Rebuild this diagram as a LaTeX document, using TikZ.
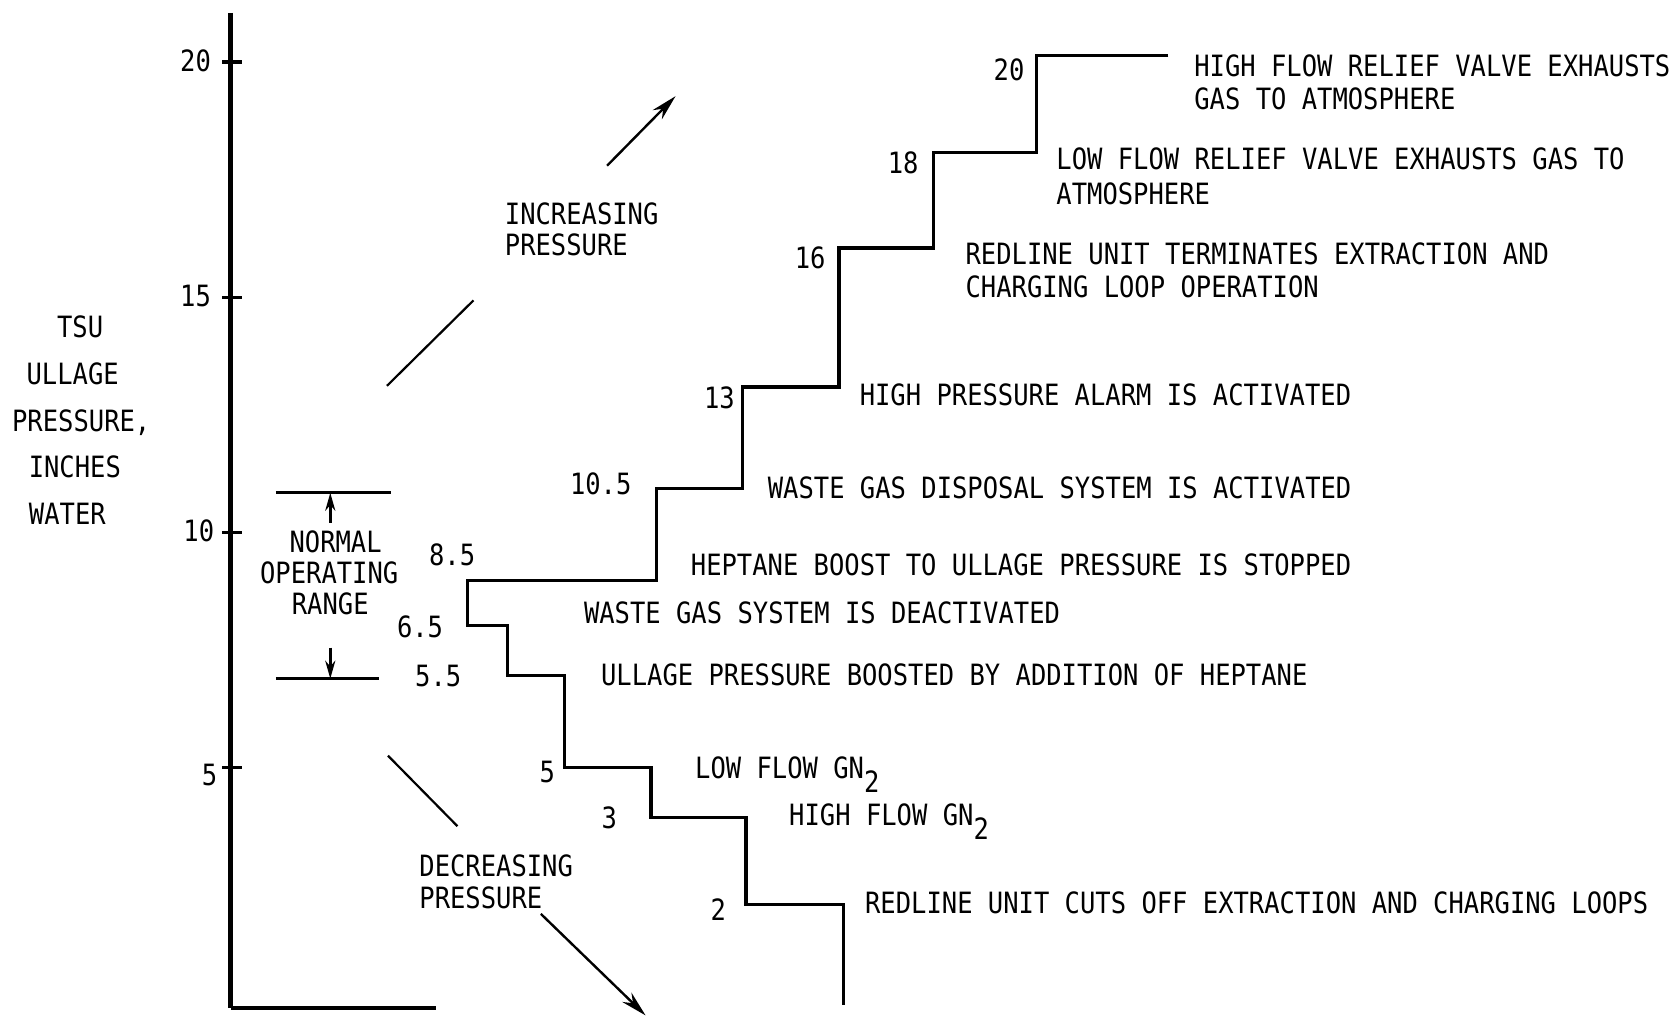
\documentclass[tikz,border=0pt]{standalone}
\usepackage{fontspec}
\newfontfamily\tw[FakeStretch=0.87]{DejaVu Sans Mono}
\usetikzlibrary{arrows.meta}
\begin{document}
\begin{tikzpicture}[x=0.5345pt,y=-0.5345pt,
  txt/.style={font=\tw\fontsize{14.66pt}{16pt}\selectfont, inner sep=0pt},
  lbl/.style={txt, anchor=base west},
  ctr/.style={txt, anchor=base},
  stair/.style={line width=1.6pt, line join=miter},
  axisline/.style={line width=2.4pt},
  thin/.style={line width=1.1pt},
  rng/.style={line width=1.3pt},
  arr/.style={line width=1.2pt, -{Stealth[length=13pt,width=6.5pt]}},
  sarr/.style={line width=1.6pt, -{Stealth[length=9pt,width=5pt]}}]
\useasboundingbox (0,0) rectangle (1568,952);

% axis
\coordinate (atop) at (216,12);
\coordinate (aorig) at (216,943);
\coordinate (aend) at (408,943);
\draw[axisline] (atop) -- (aorig);
\draw[line width=2pt] (aorig) -- (aend);
\foreach \yy in {58,278,498,718}{
  \draw[line width=1.6pt] (208,\yy) -- (226,\yy);
}
\node[ctr] (k20) at (183,67) {20};
\node[ctr] (k15) at (183,287) {15};
\node[ctr] (k10) at (186,507) {10};
\node[ctr] (k5)  at (196,735) {5};

% axis title
\node[ctr] (ya) at (75,316) {TSU};
\node[ctr] (yb) at (68,360) {ULLAGE};
\node[ctr] (yc) at (76,404) {PRESSURE,};
\node[ctr] (yd) at (70,447) {INCHES};
\node[ctr] (ye) at (63,491) {WATER};

% normal operating range
\draw[rng] (258,461) -- (366,461);
\draw[rng] (258,635) -- (355,635);
\coordinate (nrA) at (309,489);
\coordinate (nrB) at (309,461);
\coordinate (nrC) at (309,606);
\coordinate (nrD) at (309,635);
\draw[sarr] (nrA) -- (nrB);
\draw[sarr] (nrC) -- (nrD);
\node[ctr] (n1) at (314,517) {NORMAL};
\node[ctr] (n2) at (308,546) {OPERATING};
\node[ctr] (n3) at (309,575) {RANGE};

% increasing / decreasing
\draw[thin] (362,361) -- (443,281);
\coordinate (ia) at (568,155);
\coordinate (ib) at (632,90);
\draw[arr] (ia) -- (ib);
\node[lbl] (inc1) at (472,210) {INCREASING};
\node[lbl] (inc2) at (472,239) {PRESSURE};
\draw[thin] (363,707) -- (428,773);
\coordinate (da) at (506,855);
\coordinate (db) at (604,950);
\draw[arr] (da) -- (db);
\node[lbl] (dec1) at (392,820) {DECREASING};
\node[lbl] (dec2) at (392,850) {PRESSURE};

% staircase
\draw[stair] (1093,52) -- (970,52) -- (970,143) -- (873,143) -- (873,232)
  -- (785,232) -- (785,362) -- (695,362) -- (695,457) -- (614,457)
  -- (614,543) -- (437,543) -- (437,585) -- (475,585) -- (475,632)
  -- (528,632) -- (528,718) -- (609,718) -- (609,765) -- (698,765)
  -- (698,846) -- (789,846) -- (789,940);

% step values
\node[ctr] (v20) at (944,75) {20};
\node[ctr] (v18) at (845,162) {18};
\node[ctr] (v16) at (758,251) {16};
\node[ctr] (v13) at (673,382) {13};
\node[ctr] (v105) at (562,463) {10.5};
\node[ctr] (v85) at (423,529) {8.5};
\node[ctr] (v65) at (393,596) {6.5};
\node[ctr] (v55) at (410,642) {5.5};
\node[ctr] (v5) at (512,732) {5};
\node[ctr] (v3) at (570,775) {3};
\node[ctr] (v2) at (672,861) {2};

% event texts
\node[lbl] (t1a) at (1117,72) {HIGH FLOW RELIEF VALVE EXHAUSTS};
\node[lbl] (t1b) at (1117,102) {GAS TO ATMOSPHERE};
\node[lbl] (t2a) at (988,159) {LOW FLOW RELIEF VALVE EXHAUSTS GAS TO};
\node[lbl] (t2b) at (988,191) {ATMOSPHERE};
\node[lbl] (t3a) at (903,247) {REDLINE UNIT TERMINATES EXTRACTION AND};
\node[lbl] (t3b) at (903,278) {CHARGING LOOP OPERATION};
\node[lbl] (t4) at (804,379) {HIGH PRESSURE ALARM IS ACTIVATED};
\node[lbl] (t5) at (718,466) {WASTE GAS DISPOSAL SYSTEM IS ACTIVATED};
\node[lbl] (t6) at (646,538) {HEPTANE BOOST TO ULLAGE PRESSURE IS STOPPED};
\node[lbl] (t7) at (546,583) {WASTE GAS SYSTEM IS DEACTIVATED};
\node[lbl] (t8) at (562,641) {ULLAGE PRESSURE BOOSTED BY ADDITION OF HEPTANE};
\node[lbl] (t9) at (650,728) {LOW FLOW GN\raisebox{-7pt}{2}};
\node[lbl] (t10) at (738,772) {HIGH FLOW GN\raisebox{-7pt}{2}};
\node[lbl] (t11) at (809,855) {REDLINE UNIT CUTS OFF EXTRACTION AND CHARGING LOOPS};
\end{tikzpicture}
\end{document}
